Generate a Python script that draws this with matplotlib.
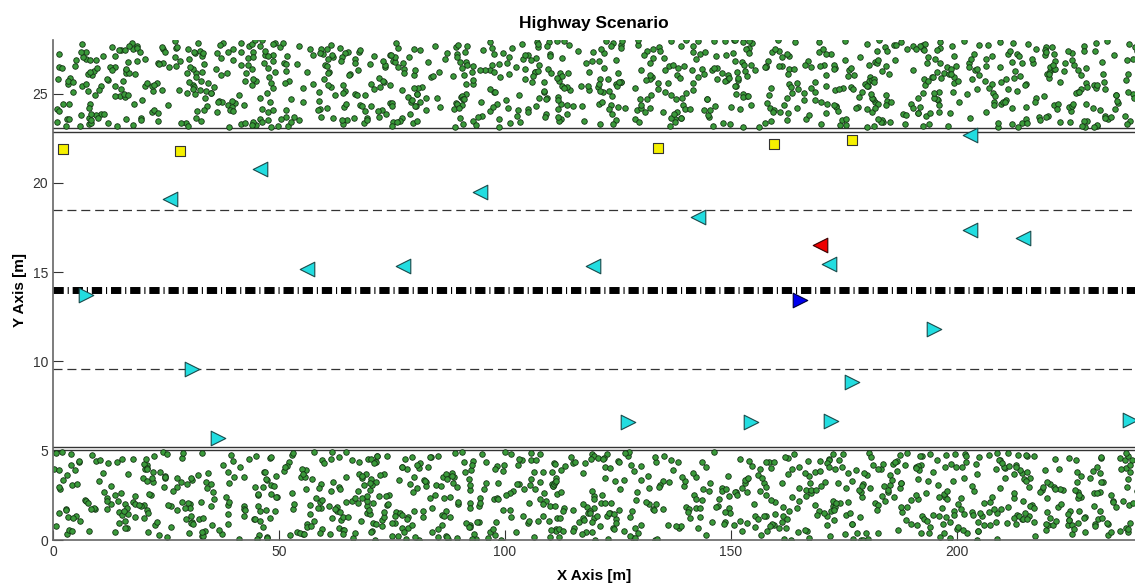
import numpy as np
import matplotlib.pyplot as plt

plt.rcParams['font.family'] = ['Liberation Sans', 'DejaVu Sans']
plt.rcParams['lines.scale_dashes'] = False

# parked cars (yellow squares)
park_x = [2.2, 28.2, 133.8, 159.6, 176.7]
park_y = [21.9, 21.8, 21.95, 22.2, 22.4]

# vehicles heading left (upper carriageway)
left_x = [25.9, 45.8, 56.3, 77.4, 94.5, 119.4, 142.6, 171.8, 202.9, 214.7, 202.9]
left_y = [19.1, 20.8, 15.17, 15.37, 19.5, 15.37, 18.07, 15.45, 17.38, 16.9, 22.7]

# vehicles heading right (lower carriageway)
right_x = [7.4, 30.7, 36.6, 127.3, 154.4, 172.1, 176.7, 194.9, 238.3]
right_y = [13.72, 9.55, 5.71, 6.59, 6.59, 6.65, 8.85, 11.8, 6.74]

# highlighted vehicles
red_x, red_y = [169.8], [16.5]
blue_x, blue_y = [165.3], [13.43]

# road markings
edge_lines = [23.05, 22.85, 5.2, 5.02]
lane_lines = [18.5, 9.55]
center_line = 14.0

# trees along the roadside: too many to read one by one, so a fixed seed
# gives a similar texture
rng = np.random.default_rng(7)
n_trees = 1000
tree_x = np.concatenate([rng.uniform(0, 240, n_trees), rng.uniform(0, 240, n_trees)])
tree_y = np.concatenate([rng.uniform(23.1, 28, n_trees), rng.uniform(0, 4.95, n_trees)])

fig = plt.figure(figsize=(11.35, 5.85), dpi=100)
ax = fig.add_axes([0.0467, 0.0769, 0.9533, 0.8547])

ax.scatter(tree_x, tree_y, s=16, c='#3a9a3a', edgecolors='#143214', linewidths=0.6, zorder=2)

for yy in edge_lines:
    ax.axhline(yy, color='#333333', lw=1.0, zorder=1)
for yy in lane_lines:
    ax.axhline(yy, color='#333333', lw=0.9, linestyle=(0, (6.5, 3.5)), zorder=1)
ax.axhline(center_line, color='black', lw=5, linestyle=(0, (7.4, 2.8, 0.8, 2.8)),
           solid_capstyle='butt', dash_capstyle='butt', zorder=1)

ax.scatter(park_x, park_y, marker='s', s=55, c='#f5f000', edgecolors='#333333', linewidths=0.8, zorder=3)
ax.scatter(left_x, left_y, marker='<', s=110, c='#22dde0', edgecolors='#1a4a4a', linewidths=0.8, zorder=3)
ax.scatter(right_x, right_y, marker='>', s=110, c='#22dde0', edgecolors='#1a4a4a', linewidths=0.8, zorder=3)
ax.scatter(red_x, red_y, marker='<', s=110, c='#ee0000', edgecolors='#3a0000', linewidths=0.8, zorder=3)
ax.scatter(blue_x, blue_y, marker='>', s=110, c='#0000ee', edgecolors='#00003a', linewidths=0.8, zorder=3)

ax.set_xlim(0, 239.4)
ax.set_ylim(0, 28)
ax.set_xticks([0, 50, 100, 150, 200])
ax.set_yticks([0, 5, 10, 15, 20, 25])
ax.tick_params(direction='in', length=7, width=0.8, labelsize=10, colors='#333333')
for s in ['top', 'right']:
    ax.spines[s].set_visible(False)
for s in ['left', 'bottom']:
    ax.spines[s].set_color('#666666')
    ax.spines[s].set_linewidth(1.2)

ax.set_xlabel('X Axis [m]', fontsize=11, fontweight='bold', labelpad=7)
ax.set_ylabel('Y Axis [m]', fontsize=11, fontweight='bold', labelpad=4)
ax.set_title('Highway Scenario', fontsize=12.5, fontweight='bold', pad=9)

fig.savefig('out.png', dpi=100)
